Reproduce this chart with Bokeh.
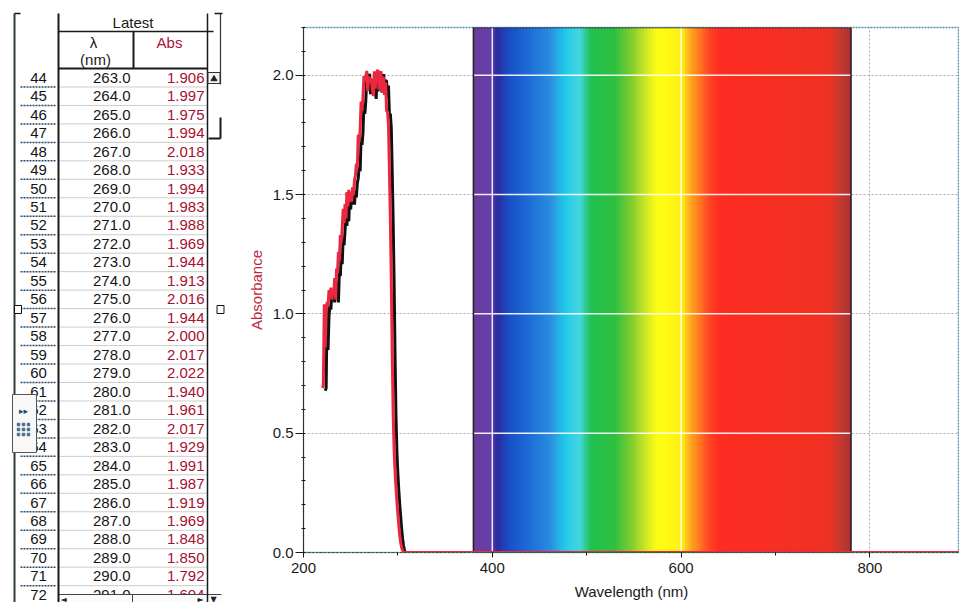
import numpy as np
from bokeh.plotting import figure
from bokeh.layouts import row
from bokeh.models import Range1d, FixedTicker, NumeralTickFormatter
from bokeh.core.properties import value
from bokeh.embed import file_html
from bokeh.resources import INLINE

# ---------------- data ----------------
# data table (Logger Pro "Latest" run, rows 44-72)
table_rows = list(range(44, 73))
table_wl = [263.0, 264.0, 265.0, 266.0, 267.0, 268.0, 269.0, 270.0, 271.0, 272.0,
            273.0, 274.0, 275.0, 276.0, 277.0, 278.0, 279.0, 280.0, 281.0, 282.0,
            283.0, 284.0, 285.0, 286.0, 287.0, 288.0, 289.0, 290.0, 291.0]
table_abs = [1.906, 1.997, 1.975, 1.994, 2.018, 1.933, 1.994, 1.983, 1.988, 1.969,
             1.944, 1.913, 2.016, 1.944, 2.000, 2.017, 2.022, 1.940, 1.961, 2.017,
             1.929, 1.991, 1.987, 1.919, 1.969, 1.848, 1.850, 1.792, 1.604]

head_wl = list(range(220, 263))
head_abs = [0.69, 0.70, 1.04, 0.86, 1.00, 1.05, 1.03, 1.10, 1.07, 1.11,
            1.06, 1.10, 1.08, 1.15, 1.06, 1.19, 1.17, 1.26, 1.22, 1.33,
            1.30, 1.36, 1.44, 1.38, 1.46, 1.40, 1.51, 1.45, 1.52, 1.47,
            1.50, 1.47, 1.53, 1.50, 1.56, 1.58, 1.63, 1.61, 1.75, 1.72,
            1.77, 1.89, 1.85]
tail_wl = [292, 293, 294, 295, 296, 297, 298, 299, 300, 301, 302, 303, 304, 305, 306, 900]
tail_abs = [1.40, 1.14, 0.83, 0.58, 0.43, 0.34, 0.27, 0.21, 0.16, 0.11, 0.07, 0.04, 0.02, 0.01, 0.0, 0.0]

wavelength = head_wl + table_wl + tail_wl
absorbance = head_abs + table_abs + tail_abs

x_ticks = [200, 400, 600, 800]
y_ticks = [0.0, 0.5, 1.0, 1.5, 2.0]

# visible-spectrum backdrop colour stops (nm, colour)
spec_start, spec_end = 380, 780
spec_stop_wl = [380, 398, 405, 418, 440, 462, 476, 492, 505, 530, 550, 566, 575, 600, 612, 630, 640, 755, 770, 780]
spec_stop_col = ["#6c3c9c", "#6440a8", "#2a2aa0", "#1a50c8", "#1f6ed8", "#2a90e0", "#22c8ea", "#44d8e0",
                 "#22c050", "#30c040", "#90d030", "#e0f020", "#ffff14", "#fff014", "#ff9a20", "#ff4424",
                 "#ff2c22", "#f03222", "#c03a30", "#a83030"]

FONT = value("Liberation Sans")
SYM = value("DejaVu Sans")

# ---------------- table figure ----------------
TW, H = 240, 602
t = figure(width=TW, height=H, x_range=Range1d(0, TW), y_range=Range1d(H, 0),
           x_axis_location=None, y_axis_location=None, toolbar_location=None,
           output_backend="svg", min_border=0, outline_line_color=None)
t.grid.visible = False
t.frame_align = False

header_bottom = 68
row_h = 18.47
n = len(table_rows)
yc = [header_bottom + row_h * (i + 0.5) for i in range(n)]
yb = [header_bottom + row_h * (i + 1) for i in range(n)]

# row separators
t.segment(x0=[58] * n, y0=yb, x1=[207] * n, y1=yb, line_color="#9a9a9a", line_width=1, line_dash="1 1")
t.segment(x0=[20] * n, y0=yb, x1=[55] * n, y1=yb, line_color="#2a4a6a", line_width=1.5, line_dash="2 1")

# header texts
t.text(x=[132.5], y=[22], text=["Latest"], text_align="center", text_baseline="middle",
       text_font=FONT, text_font_size="15px", text_color="#1a1a1a")
t.text(x=[93, 95], y=[42, 59], text=["λ", "(nm)"], text_align="center", text_baseline="middle",
       text_font=FONT, text_font_size="15px", text_color="#1a1a1a")
t.text(x=[169], y=[42], text=["Abs"], text_align="center", text_baseline="middle",
       text_font=FONT, text_font_size="15px", text_color="#b0103a")

# table body
t.text(x=[38] * n, y=yc, text=[str(r) for r in table_rows], text_align="center", text_baseline="middle",
       text_font=FONT, text_font_size="15px", text_color="#151515")
t.text(x=[130] * n, y=yc, text=[f"{w:.1f}" for w in table_wl], text_align="right", text_baseline="middle",
       text_font=FONT, text_font_size="15px", text_color="#151515")
t.text(x=[204] * n, y=yc, text=[f"{a:.3f}" for a in table_abs], text_align="right", text_baseline="middle",
       text_font=FONT, text_font_size="15px", text_color="#a8102e")

# bottom horizontal scroll bar (hides the lower half of the last row)
t.quad(left=[58], right=[221], top=[594], bottom=[602], fill_color="#fbfbfb", line_color=None)
t.segment(x0=[58, 132, 207], y0=[594, 594, 594], x1=[221, 132, 207], y1=[594, 602, 602],
          line_color="#444444", line_width=1)
t.text(x=[63, 200, 213], y=[598.5, 598.5, 598.5], text=["◄", "►", "▼"], text_align="center",
       text_baseline="middle", text_font=SYM, text_font_size="8px", text_color="#222222")

# frame lines
t.segment(x0=[14, 58, 207, 133, 220], y0=[13, 13, 13, 31, 13],
          x1=[14, 58, 207, 133, 220], y1=[602, 602, 602, 68, 84],
          line_color=["#2e3e30", "#1a1a1a", "#1a1a1a", "#1a1a1a", "#333333"],
          line_width=[2, 2, 1.5, 2, 1.2])
t.segment(x0=[58, 58, 14, 214], y0=[31, 68, 13, 13], x1=[213, 207, 20, 222], y1=[31, 68, 13, 13],
          line_color="#1a1a1a", line_width=[1.5, 2, 1.5, 1.5])

# vertical scroll bar bits
t.rect(x=[213.5], y=[77.5], width=12, height=11, fill_color="#f4f4f4", line_color="#333333", line_width=1)
t.scatter(x=[213.5], y=[78.5], marker="triangle", size=6, color="#222222")
t.segment(x0=[220, 208], y0=[117, 138], x1=[220, 220], y1=[138, 138], line_color="#1a1a1a", line_width=2)

# collapse widget
t.quad(left=[12], right=[36], top=[394], bottom=[452], fill_color="#f8f8f8", line_color="#555555", line_width=1)
t.text(x=[23], y=[410], text=["▸▸"], text_align="center", text_baseline="middle",
       text_font=SYM, text_font_size="9px", text_color="#2a4a6a")
t.scatter(x=[18, 23, 28, 18, 23, 28, 18, 23, 28], y=[424, 424, 424, 429, 429, 429, 434, 434, 434],
          marker="square", size=2.5, color="#4a6a8a")

# resize handles
t.rect(x=[17.5, 220], y=[309, 309], width=7, height=8, fill_color="white", line_color="#111111", line_width=1)

# ---------------- chart figure ----------------
PW = 959 - TW
BL, BT, BB = 63, 27, 49
x_end = 200 + (PW - BL) / 0.944
p = figure(width=PW, height=H, x_range=Range1d(200, x_end), y_range=Range1d(0, 2.2),
           toolbar_location=None, output_backend="svg",
           min_border_left=BL, min_border_right=0, min_border_top=BT, min_border_bottom=BB)
p.frame_align = False
p.background_fill_color = "white"
p.border_fill_color = "white"
p.outline_line_color = "#4d8fa5"
p.outline_line_width = 1.5
p.outline_line_dash = "2 1"

p.xaxis.ticker = FixedTicker(ticks=x_ticks, minor_ticks=list(range(200, 901, 100)))
p.yaxis.ticker = FixedTicker(ticks=y_ticks, minor_ticks=[round(v, 1) for v in np.arange(0, 2.25, 0.1)])
p.yaxis.formatter = NumeralTickFormatter(format="0.0")

for ax in (p.xaxis[0], p.yaxis[0]):
    ax.major_label_text_font = "Liberation Sans"
    ax.major_label_text_font_size = "15px"
    ax.major_label_text_color = "#1a1a1a"
    ax.axis_label_text_font = "Liberation Sans"
    ax.axis_label_text_font_size = "15px"
    ax.axis_label_text_font_style = "normal"
    ax.major_tick_line_color = "#1a1a1a"
    ax.minor_tick_line_color = "#1a1a1a"

p.xaxis.axis_label = "Wavelength (nm)"
p.xaxis.axis_label_text_color = "#1a1a1a"
p.xaxis.major_tick_in = 0
p.xaxis.major_tick_out = 5
p.xaxis.minor_tick_in = 0
p.xaxis.minor_tick_out = 3
p.xaxis.major_label_standoff = 5
p.xaxis.axis_label_standoff = 7
p.xaxis.axis_line_color = "#2a5a40"
p.xaxis.axis_line_dash = "3 1"

p.yaxis.axis_label = "Absorbance"
p.yaxis.axis_label_text_color = "#c0283f"
p.yaxis.major_tick_in = 0
p.yaxis.major_tick_out = 8
p.yaxis.minor_tick_in = 2
p.yaxis.minor_tick_out = 2
p.yaxis.major_label_standoff = 2
p.yaxis.axis_label_standoff = 5
p.yaxis.axis_line_color = "#333333"

p.grid.grid_line_color = "#a8a8a8"
p.grid.grid_line_dash = "2 2"
p.grid.grid_line_width = 1

# spectrum backdrop
def hex_rgb(h):
    return [int(h[i:i + 2], 16) for i in (1, 3, 5)]

cols = np.array([hex_rgb(c) for c in spec_stop_col], dtype=float)
lam = np.arange(spec_start, spec_end) + 0.5
img = np.empty((1, len(lam)), dtype=np.uint32)
view = img.view(dtype=np.uint8).reshape((1, len(lam), 4))
for k in range(3):
    view[0, :, k] = np.interp(lam, spec_stop_wl, cols[:, k]).astype(np.uint8)
view[0, :, 3] = 255
p.image_rgba(image=[img], x=spec_start, y=0, dw=spec_end - spec_start, dh=2.2)

# white grid lines over the spectrum
gy = [v for v in y_ticks if v > 0]
p.segment(x0=[spec_start] * len(gy), y0=gy, x1=[spec_end] * len(gy), y1=gy,
          line_color="white", line_width=1.5, line_alpha=0.9)
gx = [v for v in x_ticks if spec_start < v < spec_end]
p.segment(x0=gx, y0=[0] * len(gx), x1=gx, y1=[2.2] * len(gx),
          line_color="white", line_width=1.5, line_alpha=0.9)
p.quad(left=[spec_start], right=[spec_end], bottom=[0], top=[2.2],
       fill_color=None, line_color="#2a1a2a", line_width=1.5)

# absorbance curve with dark drop shadow
p.line(x=[w + 3 for w in wavelength], y=[a - 0.012 for a in absorbance], line_color="#111111", line_width=3)
p.line(x=wavelength, y=absorbance, line_color="#ec2840", line_width=3)

layout = row(t, p)
open("out.html", "w").write(file_html(layout, INLINE))
